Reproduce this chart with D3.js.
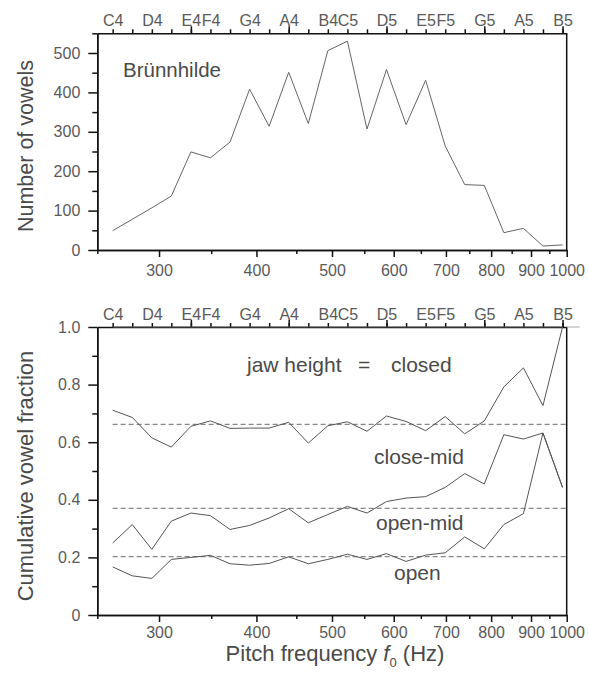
<!DOCTYPE html>
<html>
<head>
<meta charset="utf-8">
<script src="https://cdn.jsdelivr.net/npm/d3@7"></script>
<style>
  body { margin: 0; background: #fff; }
  text { font-family: "Liberation Sans", Arial, sans-serif; fill: #4a4a4a; }
  .axis path, .axis line { stroke: #111; stroke-width: 1.5; }
  .axis text { font-size: 16px; fill: #5a5a5a; }
</style>
</head>
<body>
<svg id="svg" width="589" height="677"></svg>
<script>
// semitones C4..B5
const notes = ["C4","C#4","D4","D#4","E4","F4","F#4","G4","G#4","A4","A#4","B4",
               "C5","C#5","D5","D#5","E5","F5","F#5","G5","G#5","A5","A#5","B5"];
const noteFreqs = [261.6,277.2,293.7,311.1,329.6,349.2,370.0,392.0,415.3,440.0,466.2,493.9,
                   523.3,554.4,587.3,622.3,659.3,698.5,740.0,784.0,830.6,880.0,932.3,987.8];
const noteLabels = ["C4","D4","E4","F4","G4","A4","B4","C5","D5","E5","F5","G5","A5","B5"];
const majorNotes = ["E4","A4","D5","G5","B5"];

// top panel: vowels sung on each note
const vowelCounts = [49,78,107,137,249,234,274,408,314,451,321,506,
                     530,307,458,318,431,264,166,164,44,55,10,13];

// bottom panel: cumulative fraction boundaries
const allVowels    = [1,1,1,1,1,1,1,1,1,1,1,1,1,1,1,1,1,1,1,1,1,1,1,1];
const closedBound  = [0.711,0.686,0.615,0.583,0.655,0.674,0.648,0.649,0.649,0.669,0.597,0.657,
                      0.671,0.638,0.691,0.672,0.640,0.689,0.629,0.674,0.792,0.858,0.727,1.0];
const closeMidBound= [0.250,0.314,0.228,0.326,0.354,0.345,0.297,0.311,0.337,0.369,0.320,0.349,
                      0.377,0.354,0.394,0.406,0.411,0.443,0.491,0.455,0.626,0.611,0.632,0.443];
const openMidBound = [0.167,0.136,0.127,0.193,0.200,0.207,0.178,0.173,0.179,0.202,0.178,0.193,
                      0.211,0.193,0.213,0.186,0.208,0.216,0.271,0.230,0.314,0.352,0.632,0.443];
const meanBounds = [0.662, 0.370, 0.203];

const freqTicks = [300,400,500,600,700,800,900,1000];
const freqMinor = [250,350,450,550,650,750,850,950];
const countTicks = [0,100,200,300,400,500];
const countMinor = [50,150,250,350,450,550];
const fracTicks = [0,0.2,0.4,0.6,0.8,1.0];
const fracMinor = [0.1,0.3,0.5,0.7,0.9];

const svg = d3.select("#svg");
const left = 97.3, right = 566.7;

const x = d3.scaleLog().domain([250, 1000]).range([left, right]);
const yTop = d3.scaleLinear().domain([0, 550]).range([250, 33.3]);
const yBot = d3.scaleLinear().domain([0, 1]).range([615, 327]);

const freqOf = n => noteFreqs[notes.indexOf(n)];

function noteAxis(y0) {
  // all semitones get a short tick, some a longer one
  svg.append("g").attr("class", "axis").attr("transform", `translate(0,${y0})`)
    .call(d3.axisTop(x).tickValues(noteFreqs).tickSize(4).tickSizeOuter(0).tickFormat(""));
  svg.append("g").attr("class", "axis").attr("transform", `translate(0,${y0})`)
    .call(d3.axisTop(x).tickValues(majorNotes.map(freqOf)).tickSize(7).tickFormat(""))
    .select(".domain").remove();
  const lab = svg.append("g").attr("class", "axis").attr("transform", `translate(0,${y0})`)
    .call(d3.axisTop(x).tickValues(noteLabels.map(freqOf)).tickSize(0).tickPadding(7)
      .tickFormat(d => noteLabels[noteLabels.map(freqOf).indexOf(d)]));
  lab.select(".domain").remove();
}

function freqAxis(y0, pad) {
  svg.append("g").attr("class", "axis").attr("transform", `translate(0,${y0})`)
    .call(d3.axisBottom(x).tickValues(freqMinor).tickSize(4).tickSizeOuter(0).tickFormat(""));
  svg.append("g").attr("class", "axis").attr("transform", `translate(0,${y0})`)
    .call(d3.axisBottom(x).tickValues(freqTicks).tickSize(7).tickSizeOuter(0).tickPadding(pad)
      .tickFormat(d3.format("d")));
}

function yAxis(scale, ticks, minor, fmt) {
  svg.append("g").attr("class", "axis").attr("transform", `translate(${left},0)`)
    .call(d3.axisLeft(scale).tickValues(minor).tickSize(5).tickSizeOuter(0).tickFormat(""));
  svg.append("g").attr("class", "axis").attr("transform", `translate(${left},0)`)
    .call(d3.axisLeft(scale).tickValues(ticks).tickSize(9).tickSizeOuter(0).tickPadding(8).tickFormat(fmt));
}

// ---- top panel ----
yAxis(yTop, countTicks, countMinor, d3.format("d"));
freqAxis(250, 8);
noteAxis(33.3);
svg.append("line").attr("x1", right).attr("x2", right).attr("y1", 33.3).attr("y2", 250)
  .attr("stroke", "#111").attr("stroke-width", 1.5);

const lineTop = d3.line().x((d, i) => x(noteFreqs[i])).y(d => yTop(d));
svg.append("path").datum(vowelCounts).attr("d", lineTop)
  .attr("fill", "none").attr("stroke", "#666").attr("stroke-width", 1);

svg.append("text").attr("x", 123).attr("y", 77).style("font-size", "20.5px").text("Brünnhilde");

svg.append("text").attr("transform", "translate(33,146) rotate(-90)")
  .attr("text-anchor", "middle").style("font-size", "21.5px").text("Number of vowels");

// ---- bottom panel ----
svg.selectAll(".mean").data(meanBounds).enter().append("line")
  .attr("x1", x(noteFreqs[0])).attr("x2", right)
  .attr("y1", d => yBot(d)).attr("y2", d => yBot(d))
  .attr("stroke", "#888").attr("stroke-width", 1.3).attr("stroke-dasharray", "5,3");

yAxis(yBot, fracTicks, fracMinor, d => d === 0 ? "0" : d3.format(".1f")(d));
freqAxis(615, 5);
noteAxis(yBot(1));
svg.append("line").attr("x1", right).attr("x2", right).attr("y1", yBot(1)).attr("y2", 615)
  .attr("stroke", "#111").attr("stroke-width", 1.5);
svg.append("line").attr("x1", right).attr("x2", right + 13).attr("y1", yBot(1)).attr("y2", yBot(1))
  .attr("stroke", "#aaa").attr("stroke-width", 1);

const lineBot = d3.line().x((d, i) => x(noteFreqs[i])).y(d => yBot(d));
svg.selectAll(".bound").data([allVowels, closedBound, closeMidBound, openMidBound]).enter()
  .append("path").attr("d", lineBot)
  .attr("fill", "none").attr("stroke", "#555").attr("stroke-width", 1);

const bandText = [
  {t: "jaw height", x: 247, y: 372},
  {t: "=", x: 358, y: 372},
  {t: "closed", x: 391, y: 372},
  {t: "close-mid", x: 374, y: 464},
  {t: "open-mid", x: 376, y: 530},
  {t: "open", x: 394, y: 580}
];
svg.selectAll(".band").data(bandText).enter().append("text")
  .attr("x", d => d.x).attr("y", d => d.y).style("font-size", "21px").text(d => d.t);

svg.append("text").attr("transform", "translate(33,476) rotate(-90)")
  .attr("text-anchor", "middle").style("font-size", "22px").text("Cumulative vowel fraction");

const xl = svg.append("text").attr("x", 335).attr("y", 661).attr("text-anchor", "middle")
  .style("font-size", "22px");
xl.append("tspan").text("Pitch frequency ");
xl.append("tspan").style("font-style", "italic").text("f");
xl.append("tspan").attr("dy", 6).style("font-size", "13px").text("0");
xl.append("tspan").attr("dy", -6).text(" (Hz)");
</script>
</body>
</html>
